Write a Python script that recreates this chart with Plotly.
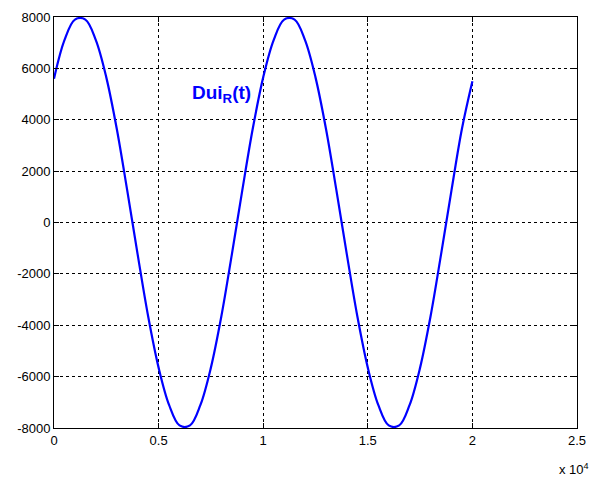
import plotly.graph_objects as go

x_vals = [0, 500, 1000, 1500, 2000, 2500, 3000, 3500, 4000, 4500,
          5000, 5500, 6000, 6500, 7000, 7500, 8000, 8500, 9000, 9500,
          10000, 10500, 11000, 11500, 12000, 12500, 13000, 13500, 14000, 14500,
          15000, 15500, 16000, 16500, 17000, 17500, 18000, 18500, 19000, 19500,
          20000]
dui_r = [5600, 7100, 7900, 7900, 7100, 5650, 3650, 1250, -1250, -3650,
         -5650, -7100, -7900, -7900, -7100, -5650, -3650, -1250, 1250, 3650,
         5650, 7100, 7900, 7900, 7100, 5650, 3650, 1250, -1250, -3650,
         -5650, -7100, -7900, -7900, -7100, -5650, -3650, -1250, 1250, 3650,
         5500]

x_tick_vals = [0, 5000, 10000, 15000, 20000, 25000]
x_tick_text = ["0", "0.5", "1", "1.5", "2", "2.5"]
y_tick_vals = [-8000, -6000, -4000, -2000, 0, 2000, 4000, 6000, 8000]
y_tick_text = ["-8000", "-6000", "-4000", "-2000", "0", "2000", "4000", "6000", "8000"]

fig = go.Figure()
fig.add_trace(go.Scatter(
    x=x_vals, y=dui_r, mode="lines",
    line=dict(color="#0000ff", width=2.2, shape="spline"),
    showlegend=False, hoverinfo="skip",
))

axis_common = dict(
    showline=True, linecolor="#000000", linewidth=1, mirror="ticks",
    ticks="inside", ticklen=5, tickcolor="#000000", tickwidth=1,
    showgrid=True, gridcolor="#000000", gridwidth=1, griddash="3px,3px",
    zeroline=False, automargin=False,
    tickfont=dict(family="Liberation Sans, Arial, sans-serif", size=13, color="#000000"),
)

fig.update_xaxes(range=[0, 25000], tickvals=x_tick_vals, ticktext=x_tick_text, **axis_common)
fig.update_yaxes(range=[-8000, 8000], tickvals=y_tick_vals, ticktext=y_tick_text, **axis_common)

fig.add_annotation(
    x=6480, y=5000, xref="x", yref="y", xanchor="left", yanchor="middle",
    text="<b>Dui<sub>R</sub>(t)</b>", showarrow=False,
    font=dict(family="Liberation Sans, Arial, sans-serif", size=19, color="#0000ff"),
)
fig.add_annotation(
    x=0.962, y=-0.1, xref="paper", yref="paper", xanchor="left", yanchor="middle",
    text="x 10<sup>4</sup>", showarrow=False,
    font=dict(family="Liberation Sans, Arial, sans-serif", size=13, color="#000000"),
)

fig.update_layout(
    width=589, height=481,
    margin=dict(l=54, r=12, t=17, b=53, autoexpand=False),
    paper_bgcolor="#ffffff", plot_bgcolor="#ffffff",
)

fig.write_html("out.html")
